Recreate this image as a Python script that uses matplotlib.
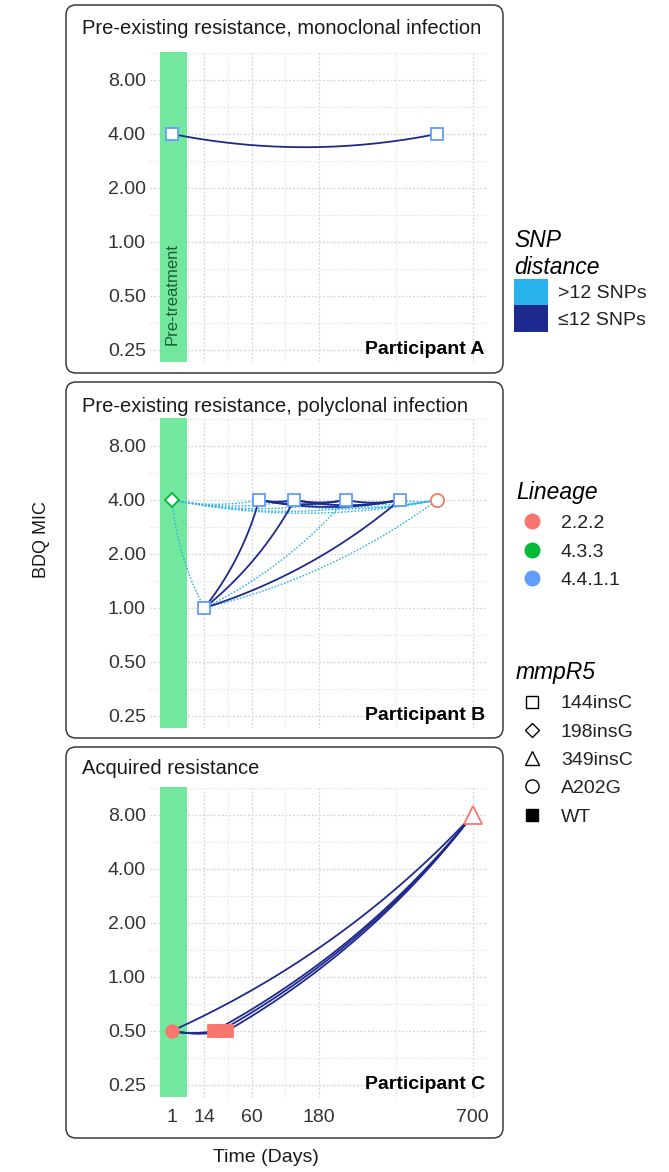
import numpy as np
import matplotlib
matplotlib.use("Agg")
import matplotlib.pyplot as plt
from matplotlib.patches import FancyBboxPatch, Patch
from matplotlib.lines import Line2D
from matplotlib.ticker import NullFormatter
from matplotlib.transforms import blended_transform_factory

plt.rcParams["font.family"] = ["Liberation Sans", "DejaVu Sans"]

# ---- data ----
X_TICKS = [1, 14, 60, 180, 700]
Y_TICKS = [0.25, 0.5, 1, 2, 4, 8]

PANEL_TITLES = [
    "Pre-existing resistance, monoclonal infection",
    "Pre-existing resistance, polyclonal infection",
    "Acquired resistance",
]
PARTICIPANTS = ["Participant A", "Participant B", "Participant C"]

# participant A
A_DAYS = [1, 550]
A_MIC = [4, 4]
A_LINEAGE = ["4.4.1.1", "4.4.1.1"]
A_MMPR5 = ["144insC", "144insC"]
A_LINKS = [(0, 1, "<=12")]

# participant B
B_DAYS = [1, 14, 70, 129, 246, 412, 550]
B_MIC = [4, 1, 4, 4, 4, 4, 4]
B_LINEAGE = ["4.3.3", "4.4.1.1", "4.4.1.1", "4.4.1.1", "4.4.1.1", "4.4.1.1", "2.2.2"]
B_MMPR5 = ["198insG", "144insC", "144insC", "144insC", "144insC", "144insC", "A202G"]
B_LINKS = [
    (0, 1, ">12"), (0, 2, ">12"), (0, 3, ">12"), (0, 4, ">12"), (0, 5, ">12"), (0, 6, ">12"),
    (1, 4, ">12"), (1, 6, ">12"),
    (2, 6, ">12"), (3, 6, ">12"), (4, 6, ">12"), (5, 6, ">12"),
    (1, 2, "<=12"), (1, 3, "<=12"), (1, 5, "<=12"),
    (2, 3, "<=12"), (2, 4, "<=12"), (2, 5, "<=12"),
    (3, 4, "<=12"), (3, 5, "<=12"), (4, 5, "<=12"),
]

# participant C
C_DAYS = [1, 21, 26, 32, 700]
C_MIC = [0.5, 0.5, 0.5, 0.5, 8]
C_LINEAGE = ["2.2.2", "2.2.2", "2.2.2", "2.2.2", "2.2.2"]
C_MMPR5 = [None, "WT", "WT", "WT", "349insC"]
C_LINKS = [
    (0, 1, "<=12"), (0, 2, "<=12"), (0, 3, "<=12"), (0, 4, "<=12"),
    (1, 2, "<=12"), (2, 3, "<=12"),
    (1, 4, "<=12"), (2, 4, "<=12"), (3, 4, "<=12"),
]

SNP_LABELS = {">12": ">12 SNPs", "<=12": "\u226412 SNPs"}
LINEAGES = ["2.2.2", "4.3.3", "4.4.1.1"]
MMPR5_LEVELS = ["144insC", "198insG", "349insC", "A202G", "WT"]

# ---- styles ----
SNP_COLORS = {">12": "#2ab2ee", "<=12": "#1e2a8e"}
SNP_LS = {">12": (0, (1.2, 1.2)), "<=12": "-"}
SNP_LW = {">12": 1.0, "<=12": 1.3}
LINEAGE_COLORS = {"2.2.2": "#F8766D", "4.3.3": "#00BA38", "4.4.1.1": "#619CFF"}
# marker, filled, size in panels, size in legend
MMPR5_STYLE = {
    "144insC": ("s", False, 8.5, 8.5),
    "198insG": ("D", False, 7.5, 7.5),
    "349insC": ("^", False, 12.5, 10.5),
    "A202G": ("o", False, 9.5, 9.5),
    "WT": ("s", True, 8.5, 8.5),
    None: ("o", True, 9, 9),
}
BAND_COLOR = "#74E79E"
W, H = 669, 1172


def fwd(x):
    x = np.asarray(x, dtype=float)
    return np.sign(x) * np.sqrt(np.abs(x))


def inv(y):
    y = np.asarray(y, dtype=float)
    return np.sign(y) * y ** 2


def draw_curve(ax, p, q, color, ls, lw, curvature=0.1, n=80):
    # ggplot-like geom_curve, built in display space
    p0 = ax.transData.transform(p)
    p1 = ax.transData.transform(q)
    d = p1 - p0
    ctrl = (p0 + p1) / 2 + curvature * np.array([d[1], -d[0]])
    t = np.linspace(0, 1, n)[:, None]
    pts = (1 - t) ** 2 * p0 + 2 * (1 - t) * t * ctrl + t ** 2 * p1
    xy = ax.transData.inverted().transform(pts)
    ax.plot(xy[:, 0], xy[:, 1], color=color, ls=ls, lw=lw, zorder=2,
            solid_capstyle="round")


fig = plt.figure(figsize=(W / 100, H / 100), dpi=100)

# layout in pixels: axes (left, top, right, bottom), box (left, top, right, bottom), title y
layout = [
    dict(axes=(150, 52, 487, 362), box=(66, 5, 503, 373), title=28),
    dict(axes=(150, 418, 487, 728), box=(66, 382, 503, 738), title=407),
    dict(axes=(150, 787, 487, 1097), box=(66, 747, 503, 1138), title=768),
]
panels = [
    (A_DAYS, A_MIC, A_LINEAGE, A_MMPR5, A_LINKS),
    (B_DAYS, B_MIC, B_LINEAGE, B_MMPR5, B_LINKS),
    (C_DAYS, C_MIC, C_LINEAGE, C_MMPR5, C_LINKS),
]

x_minor = [float(inv((fwd(a) + fwd(b)) / 2)) for a, b in zip(X_TICKS[:-1], X_TICKS[1:])]
y_minor = [np.sqrt(a * b) for a, b in zip(Y_TICKS[:-1], Y_TICKS[1:])] + [Y_TICKS[-1] * np.sqrt(2)]

for i, (lay, (days, mic, lineage, mmpr5, links)) in enumerate(zip(layout, panels)):
    l, t, r, b = lay["axes"]
    ax = fig.add_axes([l / W, 1 - b / H, (r - l) / W, (b - t) / H])
    ax.set_xscale("function", functions=(fwd, inv))
    ax.set_yscale("log", base=2)
    ax.set_xlim(-0.74, 765)
    ax.set_ylim(0.214, 11.45)
    ax.set_xticks(X_TICKS)
    ax.set_xticks(x_minor, minor=True)
    ax.set_yticks(Y_TICKS)
    ax.set_yticks(y_minor, minor=True)
    ax.set_yticklabels([f"{v:.2f}" for v in Y_TICKS])
    if i == 2:
        ax.set_xticklabels([str(v) for v in X_TICKS])
    else:
        ax.set_xticklabels([])
    ax.xaxis.set_minor_formatter(NullFormatter())
    ax.yaxis.set_minor_formatter(NullFormatter())
    ax.tick_params(which="both", length=0, labelsize=14, colors="#333333")
    ax.tick_params(axis="y", pad=3)
    ax.tick_params(axis="x", pad=9)
    for s in ax.spines.values():
        s.set_visible(False)
    ax.set_axisbelow(True)
    ax.grid(which="major", color="#d4d4d4", ls=(0, (1.5, 1.5)), lw=0.9)
    ax.grid(which="minor", color="#e6e6e6", ls=(0, (1.5, 1.5)), lw=0.8)

    ax.axvspan(0, 5, color=BAND_COLOR, lw=0, zorder=1)
    if i == 0:
        ax.text(1, 0.055, "Pre-treatment", rotation=90, ha="center", va="bottom",
                fontsize=12, color="#1a5e35",
                transform=blended_transform_factory(ax.transData, ax.transAxes))

    # links: light dotted first, dark on top
    for cat in [">12", "<=12"]:
        for a, c, k in links:
            if k != cat:
                continue
            draw_curve(ax, (days[a], mic[a]), (days[c], mic[c]),
                       SNP_COLORS[k], SNP_LS[k], SNP_LW[k])

    for d, m, lin, mut in zip(days, mic, lineage, mmpr5):
        mk, filled, ms, _ = MMPR5_STYLE[mut]
        col = LINEAGE_COLORS[lin]
        ax.plot([d], [m], marker=mk, ms=ms, mec=col, mew=1.3,
                mfc=col if filled else "white", ls="none", zorder=4, clip_on=False)

    ax.text(0.994, 0.25, PARTICIPANTS[i], ha="right", va="center", fontsize=14,
            fontweight="bold", color="black",
            transform=blended_transform_factory(ax.transAxes, ax.transData))

    bl, bt, br, bb = lay["box"]
    box = FancyBboxPatch((bl / 100, (H - bb) / 100), (br - bl) / 100, (bb - bt) / 100,
                         boxstyle="round,pad=0,rounding_size=0.1",
                         transform=fig.dpi_scale_trans, fill=False,
                         ec="#3a3a3a", lw=1.1)
    fig.add_artist(box)
    fig.text(82 / W, 1 - lay["title"] / H, PANEL_TITLES[i], ha="left", va="center",
             fontsize=14.5, color="#1a1a1a")

fig.text(42 / W, 1 - 540 / H, "BDQ MIC", rotation=90, ha="center", va="center",
         fontsize=13, color="#1a1a1a")
fig.text(266 / W, 1 - 1157 / H, "Time (Days)", ha="center", va="center",
         fontsize=14, color="#1a1a1a")

# ---- legends ----
title_font = {"style": "italic", "size": 16.5}
common = dict(loc="upper left", frameon=False, fontsize=14, borderpad=0,
              borderaxespad=0, alignment="left", title_fontproperties=title_font,
              labelcolor="#222222")

snp_handles = [Patch(facecolor=SNP_COLORS[k], edgecolor="none") for k in [">12", "<=12"]]
leg1 = fig.legend(snp_handles, [SNP_LABELS[k] for k in [">12", "<=12"]],
                  title="SNP\ndistance", bbox_to_anchor=(514 / W, 1 - 229 / H),
                  handlelength=1.75, handleheight=1.75, labelspacing=0,
                  handletextpad=0.5, **common)

lin_handles = [Line2D([], [], marker="o", ls="none", ms=10.5,
                      mfc=LINEAGE_COLORS[k], mec=LINEAGE_COLORS[k]) for k in LINEAGES]
leg2 = fig.legend(lin_handles, LINEAGES, title="Lineage",
                  bbox_to_anchor=(516 / W, 1 - 481 / H),
                  handlelength=1.6, handletextpad=0.7, labelspacing=0.55, **common)

mut_handles = []
for k in MMPR5_LEVELS:
    mk, filled, _, ms = MMPR5_STYLE[k]
    mut_handles.append(Line2D([], [], marker=mk, ls="none", ms=ms,
                              mec="black", mew=1.0,
                              mfc="black" if filled else "white"))
leg3 = fig.legend(mut_handles, MMPR5_LEVELS, title="mmpR5",
                  bbox_to_anchor=(516 / W, 1 - 661 / H),
                  handlelength=1.6, handletextpad=0.7, labelspacing=0.55, **common)

fig.savefig("out.png", dpi=100)
